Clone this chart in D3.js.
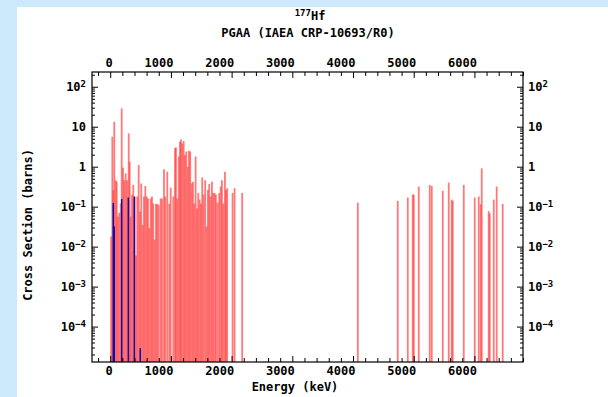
<!DOCTYPE html>
<html>
<head>
<meta charset="utf-8">
<script src="https://cdn.jsdelivr.net/npm/d3@7"></script>
<style>
  body { margin: 0; background: #cdeafc; }
  svg { display: block; }
  text { font-family: "DejaVu Sans Mono", monospace; font-weight: bold; fill: #000; }
</style>
</head>
<body>
<svg id="chart" width="608" height="397"></svg>
<script>
// plot frame
const width = 608;
const height = 397;
const plotLeft = 92, plotRight = 523, plotTop = 72, plotBottom = 362;

// red lines: energy (keV) and cross section (barns)
const redEnergy = [15, 35, 51, 67, 91, 107, 128, 150, 173, 189, 211, 232, 255, 277, 305, 321, 337, 359, 380, 403,
  425, 446, 469, 491, 512, 535, 556, 578, 601, 622, 644, 667, 688, 709, 732, 754, 775, 798, 831, 853,
  886, 907, 940, 973, 996, 1039, 1067, 1083, 1104, 1128, 1149, 1165, 1187, 1210, 1231, 1253, 1276, 1297, 1318, 1341,
  1363, 1384, 1407, 1429, 1450, 1473, 1495, 1516, 1539, 1565, 1588, 1610, 1631, 1654, 1676, 1697, 1720, 1741, 1769, 1796,
  1819, 1840, 1862, 1890, 1906, 1927, 2016, 2049, 2174,
  4079, 4737, 4902, 4984, 5001, 5083, 5264, 5297, 5478, 5577, 5626, 5643, 5824, 6005, 6071, 6104, 6120, 6235, 6252, 6318,
  6367, 6466];
const redXs = [0.018, 5.6, 0.26, 13.3, 0.46, 0.42, 0.056, 0.07, 0.12, 28.8, 0.96, 0.46, 0.68, 0.46, 6.8, 1.33, 0.056, 0.2, 0.35, 0.18,
  0.006, 0.18, 1.1, 0.075, 0.38, 0.035, 0.18, 0.33, 0.18, 0.16, 0.029, 0.16, 0.18, 0.12, 0.015, 0.117, 0.117, 0.11, 0.16, 0.16,
  0.86, 0.18, 0.75, 0.12, 0.3, 0.18, 2.9, 3.05, 0.16, 1.8, 4.2, 4.8, 3.8, 4.4, 1.96, 2.4, 1.0, 2.5, 2.4, 0.38,
  0.42, 0.12, 1.8, 0.09, 0.22, 0.15, 0.12, 0.54, 0.2, 0.46, 0.032, 0.26, 0.37, 0.18, 0.42, 0.22, 0.22, 0.2, 0.126, 0.22,
  0.32, 0.46, 0.12, 0.75, 0.26, 0.29, 0.22, 0.29, 0.22,
  0.126, 0.14, 0.17, 0.2, 0.2, 0.32, 0.35, 0.33, 0.25, 0.4, 0.15, 0.14, 0.35, 0.17, 0.18, 0.115, 0.91, 0.078, 0.068, 0.15,
  0.32, 0.117];

// blue lines
const blueEnergy = [51, 67, 189, 298, 397, 495];
const blueXs = [0.123, 0.032, 0.155, 0.17, 0.178, 0.000029];

// axis ticks
const xMajor = [0, 1000, 2000, 3000, 4000, 5000, 6000];
const yMajor = [1e-4, 1e-3, 1e-2, 1e-1, 1, 10, 100];
const yLabels = [["10", "\u22124"], ["10", "\u22123"], ["10", "\u22122"], ["10", "\u22121"], ["1", ""], ["10", ""], ["10", "2"]];

const svg = d3.select("#chart");

// white panel
svg.append("rect").attr("x", 17).attr("y", 7).attr("width", width - 17).attr("height", height - 7).attr("fill", "#fff");

const x = d3.scaleLinear().domain([-300, 6800]).range([plotLeft, plotRight]);
const y = d3.scaleLog().domain([1.3e-5, 234]).range([plotBottom, plotTop]);

// red lines
svg.append("g").selectAll("line").data(redEnergy).enter().append("line")
  .attr("x1", d => x(d)).attr("x2", d => x(d))
  .attr("y1", plotBottom).attr("y2", (d, i) => y(redXs[i]))
  .attr("stroke", "#ff4040").attr("stroke-opacity", 0.7).attr("stroke-width", 1.8);

// blue lines
svg.append("g").selectAll("line").data(blueEnergy).enter().append("line")
  .attr("x1", d => x(d)).attr("x2", d => x(d))
  .attr("y1", plotBottom).attr("y2", (d, i) => y(blueXs[i]))
  .attr("stroke", "#0a0ab4").attr("stroke-width", 1.5);

// minor ticks
const xMinor = d3.range(-200, 6801, 200).filter(v => v % 1000 !== 0);
const yMinor = [];
for (let e = -5; e <= 2; e++) for (let m = 2; m <= 9; m++) {
  const v = m * Math.pow(10, e);
  if (v > 1.3e-5 && v < 234) yMinor.push(v);
}

function styleAxis(g) {
  g.select(".domain").remove();
  g.selectAll("line").attr("stroke", "#000");
}

svg.append("g").attr("transform", `translate(0,${plotBottom})`)
  .call(d3.axisBottom(x).tickValues(xMinor).tickSize(-4).tickFormat("")).call(styleAxis);
svg.append("g").attr("transform", `translate(0,${plotTop})`)
  .call(d3.axisTop(x).tickValues(xMinor).tickSize(-4).tickFormat("")).call(styleAxis);
svg.append("g").attr("transform", `translate(${plotLeft},0)`)
  .call(d3.axisLeft(y).tickValues(yMinor).tickSize(-3).tickFormat("")).call(styleAxis);
svg.append("g").attr("transform", `translate(${plotRight},0)`)
  .call(d3.axisRight(y).tickValues(yMinor).tickSize(-3).tickFormat("")).call(styleAxis);

// major x ticks, labels right-aligned to the tick
const xb = svg.append("g").attr("transform", `translate(0,${plotBottom})`)
  .call(d3.axisBottom(x).tickValues(xMajor).tickSize(-6).tickFormat(d3.format("d"))).call(styleAxis);
xb.selectAll("text").attr("y", 4).attr("dy", "0.71em").attr("x", 2).attr("text-anchor", "end")
  .style("font-size", "12px");
const xt = svg.append("g").attr("transform", `translate(0,${plotTop})`)
  .call(d3.axisTop(x).tickValues(xMajor).tickSize(-6).tickFormat(d3.format("d"))).call(styleAxis);
xt.selectAll("text").attr("y", -5).attr("x", 2).attr("text-anchor", "end")
  .style("font-size", "12px");

// major y ticks with superscript labels
function yLabel(sel, anchor, dx) {
  sel.selectAll("text").each(function (d) {
    const t = d3.select(this).text("").attr("x", dx).attr("dy", "0.35em").attr("text-anchor", anchor)
      .style("font-size", "12px");
    const lab = yLabels[yMajor.indexOf(d)];
    t.append("tspan").text(lab[0]);
    if (lab[1]) t.append("tspan").attr("dy", "-0.45em").style("font-size", "9px").text(lab[1]);
  });
}
const yl = svg.append("g").attr("transform", `translate(${plotLeft},0)`)
  .call(d3.axisLeft(y).tickValues(yMajor).tickSize(-6)).call(styleAxis);
yl.call(yLabel, "end", -6);
const yr = svg.append("g").attr("transform", `translate(${plotRight},0)`)
  .call(d3.axisRight(y).tickValues(yMajor).tickSize(-6)).call(styleAxis);
yr.call(yLabel, "start", 5);

// axis groups carry their own font attrs; let the css rule apply
svg.selectAll("g").attr("font-family", null).attr("font-size", null);

// frame
svg.append("rect").attr("x", plotLeft).attr("y", plotTop).attr("width", plotRight - plotLeft).attr("height", plotBottom - plotTop)
  .attr("fill", "none").attr("stroke", "#000").attr("stroke-width", 1.2);

// titles
const t1 = svg.append("text").attr("x", 310).attr("y", 20).attr("text-anchor", "middle").style("font-size", "12px");
t1.append("tspan").attr("dy", "-4").style("font-size", "9px").text("177");
t1.append("tspan").attr("dy", "4").text("Hf");
svg.append("text").attr("x", 308).attr("y", 37).attr("text-anchor", "middle").style("font-size", "12px")
  .text("PGAA (IAEA CRP-10693/R0)");
svg.append("text").attr("x", 295).attr("y", 391).attr("text-anchor", "middle").style("font-size", "12px")
  .text("Energy (keV)");
svg.append("text").attr("transform", "translate(32,225) rotate(-90)").attr("text-anchor", "middle")
  .style("font-size", "12px").text("Cross Section (barns)");
</script>
</body>
</html>
